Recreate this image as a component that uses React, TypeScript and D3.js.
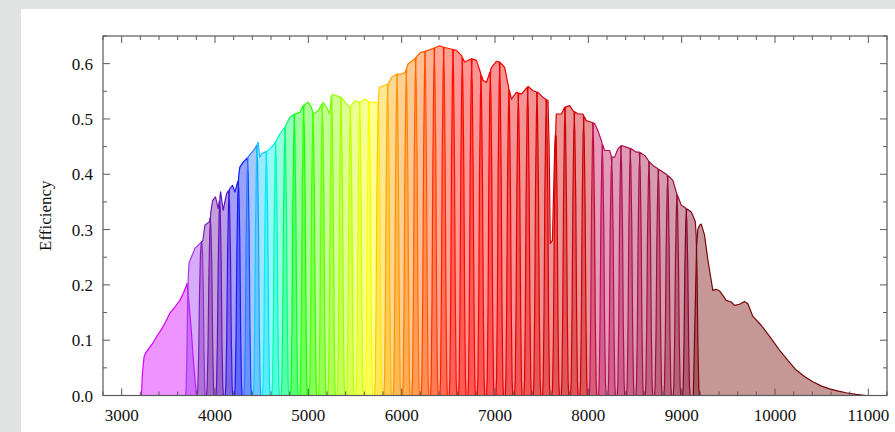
import React from 'react';
import * as d3 from 'd3';

// ---------- data ----------
const narrowCenters = [3790, 3900, 4000, 4100, 4200, 4300, 4400, 4500, 4600, 4700, 4800, 4900, 5000, 5100, 5200, 5300, 5400, 5500, 5600, 5700, 5800, 5900, 6000, 6100, 6200, 6300, 6400, 6500, 6600, 6700, 6800, 6900, 7000, 7100, 7200, 7300, 7400, 7500, 7600, 7700, 7800, 7900, 8000, 8100, 8200, 8300, 8400, 8500, 8600, 8700, 8800, 8900, 9000, 9100];
// half widths (Å) of the flat top and of the base, per filter
const narrowHalfTop = narrowCenters.map((c) => (c < 3850 ? 68 : 46));
const narrowHalfBase = narrowCenters.map((c) => (c < 3850 ? 105 : 90));

// top envelope of narrow-band filters (wavelength Å, efficiency)
const envLambda = [3700, 3722, 3785, 3840, 3870, 3892, 3940, 3975, 4005, 4034, 4060, 4088, 4124, 4160, 4188, 4213, 4248, 4266, 4302, 4338, 4381, 4427, 4463, 4480, 4499, 4534, 4570, 4623, 4666, 4695, 4748, 4802, 4855, 4909, 4944, 4998, 5034, 5052, 5105, 5159, 5195, 5230, 5248, 5302, 5355, 5409, 5444, 5498, 5552, 5605, 5659, 5712, 5748, 5760, 5801, 5855, 5891, 5944, 5998, 6034, 6069, 6123, 6200, 6300, 6400, 6515, 6587, 6640, 6676, 6747, 6801, 6872, 6908, 6962, 7015, 7050, 7104, 7139, 7176, 7229, 7283, 7353, 7407, 7460, 7514, 7568, 7580, 7592, 7615, 7640, 7657, 7711, 7746, 7800, 7835, 7889, 7942, 7978, 8032, 8067, 8103, 8139, 8175, 8228, 8250, 8282, 8317, 8353, 8407, 8460, 8514, 8550, 8603, 8657, 8692, 8745, 8799, 8852, 8906, 8942, 8996, 9049, 9103, 9157, 9250];
const envEff = [0.22, 0.24, 0.266, 0.275, 0.28, 0.308, 0.314, 0.353, 0.359, 0.338, 0.368, 0.335, 0.365, 0.374, 0.38, 0.368, 0.389, 0.413, 0.422, 0.428, 0.437, 0.446, 0.458, 0.431, 0.437, 0.44, 0.443, 0.452, 0.464, 0.473, 0.485, 0.503, 0.509, 0.512, 0.524, 0.53, 0.521, 0.509, 0.515, 0.53, 0.521, 0.509, 0.545, 0.542, 0.539, 0.527, 0.521, 0.533, 0.53, 0.536, 0.53, 0.53, 0.53, 0.557, 0.56, 0.563, 0.575, 0.581, 0.581, 0.584, 0.6, 0.606, 0.62, 0.625, 0.632, 0.627, 0.624, 0.615, 0.603, 0.609, 0.606, 0.57, 0.566, 0.593, 0.604, 0.603, 0.593, 0.563, 0.536, 0.548, 0.545, 0.559, 0.551, 0.548, 0.539, 0.533, 0.45, 0.275, 0.28, 0.45, 0.509, 0.509, 0.521, 0.524, 0.515, 0.509, 0.509, 0.497, 0.494, 0.492, 0.479, 0.461, 0.443, 0.443, 0.431, 0.431, 0.446, 0.452, 0.449, 0.446, 0.44, 0.44, 0.434, 0.422, 0.416, 0.41, 0.404, 0.398, 0.389, 0.368, 0.344, 0.338, 0.332, 0.31, 0.3];

// broad filters (wavelength Å, efficiency)
const uJavaLambda = [3212, 3222, 3240, 3257, 3300, 3335, 3380, 3428, 3470, 3517, 3570, 3624, 3660, 3688, 3701, 3720, 3745, 3770, 3790, 3805];
const uJavaEff = [0, 0.04, 0.07, 0.077, 0.087, 0.095, 0.108, 0.12, 0.133, 0.149, 0.16, 0.172, 0.185, 0.196, 0.203, 0.17, 0.12, 0.06, 0.02, 0];
const j1007Lambda = [9125, 9140, 9160, 9173, 9192, 9210, 9245, 9281, 9334, 9370, 9406, 9441, 9477, 9531, 9566, 9620, 9673, 9709, 9763, 9852, 9950, 10048, 10140, 10227, 10320, 10405, 10500, 10584, 10680, 10762, 10870, 10976];
const j1007Eff = [0, 0.12, 0.27, 0.3, 0.308, 0.31, 0.29, 0.245, 0.19, 0.192, 0.189, 0.181, 0.172, 0.169, 0.163, 0.165, 0.17, 0.166, 0.143, 0.127, 0.105, 0.082, 0.063, 0.046, 0.034, 0.025, 0.017, 0.012, 0.008, 0.005, 0.002, 0];

const xTickValues = d3.range(3000, 11001, 1000);
const xMinorValues = d3.range(2800, 11201, 200);
const yTickValues = [0, 0.1, 0.2, 0.3, 0.4, 0.5, 0.6];
const yMinorValues = d3.range(0, 0.651, 0.05);

// ---------- style ----------
const W = 895;
const H = 432;
const M = { left: 103, right: 887, top: 36, bottom: 395.5 };
const colorStops: [number, string][] = [
  [3500, '#d400ff'], [3790, '#a238f0'], [3900, '#7a22b0'], [4000, '#6e1aa8'], [4100, '#5a12c0'],
  [4200, '#2a18e8'], [4300, '#0a20ff'], [4400, '#2a7cff'], [4500, '#10c8ff'], [4600, '#00f0f0'],
  [4700, '#00ffb0'], [4800, '#00ff60'], [4900, '#10ff10'], [5000, '#30ff00'], [5200, '#70ff00'],
  [5400, '#b0ff00'], [5600, '#e8ff00'], [5700, '#ffff00'], [5800, '#ffc800'], [5900, '#ffa400'],
  [6000, '#ff9000'], [6200, '#ff6400'], [6400, '#ff3000'], [6600, '#ff0a00'], [7000, '#f20000'],
  [7500, '#da0000'], [8000, '#c80008'], [8100, '#c01058'], [8500, '#a8104a'], [9000, '#921034'],
  [9100, '#820020'], [10000, '#740808'],
];
const colorScale = d3.scaleLinear<string>()
  .domain(colorStops.map((d) => d[0]))
  .range(colorStops.map((d) => d[1]))
  .interpolate(d3.interpolateRgb)
  .clamp(true);
const sideProfile: [number, number][] = [[0, 0], [0.15, 0.05], [0.35, 0.28], [0.55, 0.68], [0.78, 0.93], [1, 1]];

function envAt(l: number) {
  const i = d3.bisectLeft(envLambda, l);
  if (i <= 0) return envEff[0];
  if (i >= envLambda.length) return envEff[envEff.length - 1];
  const l0 = envLambda[i - 1], l1 = envLambda[i];
  const t = (l - l0) / (l1 - l0);
  return envEff[i - 1] + t * (envEff[i] - envEff[i - 1]);
}

function narrowPoints(c: number, ht: number, hb: number): [number, number][] {
  const pts: [number, number][] = [];
  sideProfile.forEach(([f, v]) => {
    const l = c - hb + f * (hb - ht);
    pts.push([l, v * envAt(l)]);
  });
  envLambda.forEach((l, i) => {
    if (l > c - ht && l < c + ht) pts.push([l, envEff[i]]);
  });
  [...sideProfile].reverse().forEach(([f, v]) => {
    const l = c + hb - f * (hb - ht);
    pts.push([l, v * envAt(l)]);
  });
  return pts;
}

export default function App() {
  const x = d3.scaleLinear().domain([2800, 11200]).range([M.left, M.right]);
  const y = d3.scaleLinear().domain([0, 0.65]).range([M.bottom, M.top]);
  const area = d3.area<[number, number]>().x((d) => x(d[0])).y0(y(0)).y1((d) => y(d[1]));
  const line = d3.line<[number, number]>().x((d) => x(d[0])).y((d) => y(d[1]));

  const filters: { pts: [number, number][]; color: string }[] = [];
  filters.push({ pts: uJavaLambda.map((l, i) => [l, uJavaEff[i]]), color: colorScale(3500) });
  narrowCenters.forEach((c, i) => {
    filters.push({ pts: narrowPoints(c, narrowHalfTop[i], narrowHalfBase[i]), color: colorScale(c) });
  });
  filters.push({ pts: j1007Lambda.map((l, i) => [l, j1007Eff[i]]), color: colorScale(10000) });

  const axisColor = '#5a5a5a';
  const font = '"Liberation Serif", "Times New Roman", serif';

  return (
    <svg width={W} height={H} style={{ position: 'absolute', left: 0, top: 0 }}>
      <rect x={0} y={0} width={W} height={H} fill="#e1e3e3" />
      <rect x={21} y={9} width={W - 21} height={H - 9} fill="#ffffff" />
      <clipPath id="plotclip">
        <rect x={M.left} y={M.top} width={M.right - M.left} height={M.bottom - M.top} />
      </clipPath>
      <g clipPath="url(#plotclip)">
        {filters.map((f, i) => (
          <g key={i}>
            <path d={area(f.pts) || ''} fill={f.color} fillOpacity={0.42} stroke="none" />
            <path d={line(f.pts) || ''} fill="none" stroke={f.color} strokeWidth={1.2} strokeLinejoin="round" />
          </g>
        ))}
      </g>
      {/* frame */}
      <rect x={M.left} y={M.top} width={M.right - M.left} height={M.bottom - M.top} fill="none" stroke={axisColor} strokeWidth={1.2} />
      {/* x ticks */}
      {xMinorValues.map((v) => {
        const major = xTickValues.includes(Math.round(v));
        const len = major ? 7 : 4;
        return (
          <g key={'xt' + v}>
            <line x1={x(v)} x2={x(v)} y1={M.bottom} y2={M.bottom - len} stroke={axisColor} strokeWidth={1} />
            <line x1={x(v)} x2={x(v)} y1={M.top} y2={M.top + len} stroke={axisColor} strokeWidth={1} />
          </g>
        );
      })}
      {yMinorValues.map((v, i) => {
        const major = i % 2 === 0;
        const len = major ? 7 : 4;
        return (
          <g key={'yt' + i}>
            <line x1={M.left} x2={M.left + len} y1={y(v)} y2={y(v)} stroke={axisColor} strokeWidth={1} />
            <line x1={M.right} x2={M.right - len} y1={y(v)} y2={y(v)} stroke={axisColor} strokeWidth={1} />
          </g>
        );
      })}
      {xTickValues.map((v) => (
        <text key={'xl' + v} x={x(v)} y={M.bottom + 25} textAnchor="middle" fontFamily={font} fontSize={17} fill="#111">
          {v}
        </text>
      ))}
      {yTickValues.map((v) => (
        <text key={'yl' + v} x={M.left - 10} y={y(v) + 6} textAnchor="end" fontFamily={font} fontSize={17} fill="#111">
          {v.toFixed(1)}
        </text>
      ))}
      <text transform={`translate(51, ${(M.top + M.bottom) / 2}) rotate(-90)`} textAnchor="middle" fontFamily={font} fontSize={17} fill="#111">
        Efficiency
      </text>
    </svg>
  );
}
